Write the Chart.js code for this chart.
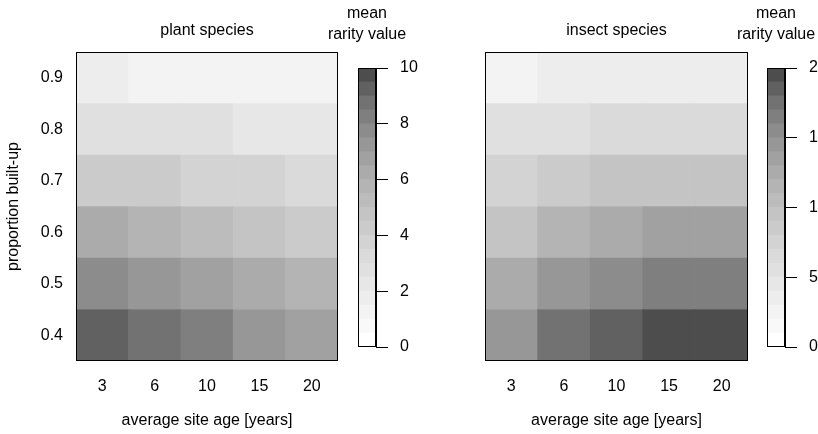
<!DOCTYPE html>
<html><head><meta charset="utf-8">
<script src="https://cdn.jsdelivr.net/npm/chart.js@4/dist/chart.umd.min.js"></script>
<style>
html,body{margin:0;padding:0;background:#fff;}
#wrap{position:relative;width:818px;height:434px;overflow:hidden;background:#fff;}
.box{position:absolute;top:0;height:434px;}
</style></head><body>
<div id="wrap">
<div class="box" style="left:0;width:345px"><canvas id="c1"></canvas></div>
<div class="box" style="left:409px;width:346px"><canvas id="c3"></canvas></div>
<div class="box" style="left:320px;width:130px"><canvas id="c2"></canvas></div>
<div class="box" style="left:720px;width:98px"><canvas id="c4"></canvas></div>
</div>
<script>
// ---- data ----
const ageLabels = ['3', '6', '10', '15', '20'];
const builtUp = [0.4, 0.5, 0.6, 0.7, 0.8, 0.9];
// rows: proportion built-up 0.4 ... 0.9 ; columns: site age 3 ... 20
const plantRarity = [
  [9.2, 8.7, 8.2, 7.2, 6.8],
  [7.7, 7.2, 6.7, 6.3, 5.8],
  [6.2, 5.7, 5.2, 4.7, 4.3],
  [4.2, 4.1, 3.8, 3.6, 3.3],
  [2.8, 2.7, 2.6, 2.3, 2.2],
  [1.7, 1.3, 1.2, 1.2, 1.1]
];
const insectRarity = [
  [14.5, 17.4, 18.5, 19.3, 19.6],
  [12.6, 14.4, 15.5, 16.3, 16.6],
  [9.6, 11.4, 12.5, 13.3, 13.5],
  [7.5, 8.4, 9.3, 9.2, 9.4],
  [5.6, 5.4, 6.3, 6.2, 6.1],
  [2.5, 3.4, 3.3, 3.2, 3.1]
];
const plantMax = 10, insectMax = 20;
const plantBarTicks = [0, 2, 4, 6, 8, 10];
const insectBarTicks = [0, 5, 10, 15, 20];
const nBins = 20;

// ---- styling ----
const FONT = 'Liberation Sans, Arial, Helvetica, sans-serif';
const FS = 16;
Chart.defaults.font.family = FONT;
Chart.defaults.font.size = FS;
Chart.defaults.color = '#000';

function binColor(k) { // k = 0 (lowest value, white) .. nBins-1 (darkest)
  const a = Math.pow(0.3, 2.2);
  const i = nBins - 1 - k;
  const v = Math.pow(a + (1 - a) * i / (nBins - 1), 1 / 2.2);
  const g = Math.round(v * 255);
  return 'rgb(' + g + ',' + g + ',' + g + ')';
}
function valueColor(v, max) {
  let k = Math.floor(v / max * nBins);
  k = Math.max(0, Math.min(nBins - 1, k));
  return binColor(k);
}

const boxPlugin = {
  id: 'boxPlugin',
  afterDraw(chart, args, opts) {
    const {ctx, chartArea: a} = chart;
    ctx.save();
    ctx.strokeStyle = '#000';
    ctx.lineWidth = 1;
    ctx.strokeRect(Math.round(a.left) + 0.5, Math.round(a.top) + 0.5,
      Math.round(a.right - a.left) - 1, Math.round(a.bottom - a.top) - 1);
    ctx.fillStyle = '#000';
    ctx.font = FS + 'px ' + FONT;
    ctx.textAlign = 'center';
    ctx.textBaseline = 'middle';
    const cx = (a.left + a.right) / 2;
    (opts.lines || []).forEach(l => ctx.fillText(l.text, cx, l.y));
    ctx.restore();
  }
};

function heatConfig(matrix, max, title, showY) {
  const half = (builtUp[1] - builtUp[0]) / 2;
  const datasets = builtUp.map((p, r) => ({
    label: String(p),
    data: matrix[r].map(() => [p - half, p + half]),
    backgroundColor: matrix[r].map(v => valueColor(v, max)),
    borderWidth: 0,
    grouped: false,
    barPercentage: 1,
    categoryPercentage: 1
  }));
  return {
    type: 'bar',
    data: {labels: ageLabels, datasets},
    plugins: [boxPlugin],
    options: {
      responsive: true, maintainAspectRatio: false, animation: false,
      devicePixelRatio: 1,
      layout: {padding: {top: 52, right: 7, left: 0, bottom: 0}},
      plugins: {legend: {display: false}, tooltip: {enabled: false},
        boxPlugin: {lines: [{text: title, y: 31}]}},
      scales: {
        x: {
          type: 'category',
          grid: {display: false, drawTicks: false}, border: {display: false},
          ticks: {padding: 16, color: '#000', maxRotation: 0},
          title: {display: true, text: 'average site age [years]', color: '#000', padding: {top: 0, bottom: 4}},
          afterFit: s => { s.height = 73; }
        },
        y: {
          type: 'linear', min: builtUp[0] - half, max: builtUp[builtUp.length - 1] + half,
          afterBuildTicks: s => { s.ticks = builtUp.map(v => ({value: v})); },
          grid: {display: false, drawTicks: false}, border: {display: false},
          ticks: {display: showY, padding: 13, color: '#000', callback: v => Number(v).toFixed(1)},
          title: {display: showY, text: 'proportion built-up', color: '#000', padding: {top: 4, bottom: 0}},
          afterFit: s => { s.width = 76; }
        }
      }
    }
  };
}

function barConfig(max, ticks, padLeft, axisWidth) {
  const step = max / nBins;
  const datasets = [];
  for (let k = 0; k < nBins; k++) {
    datasets.push({
      label: 'bin' + k,
      data: [[k * step, (k + 1) * step]],
      backgroundColor: binColor(k),
      borderWidth: 0, grouped: false, barPercentage: 1, categoryPercentage: 1
    });
  }
  return {
    type: 'bar',
    data: {labels: [''], datasets},
    plugins: [boxPlugin],
    options: {
      responsive: true, maintainAspectRatio: false, animation: false,
      devicePixelRatio: 1,
      layout: {padding: {top: 68, left: padLeft, right: 0, bottom: 87}},
      plugins: {legend: {display: false}, tooltip: {enabled: false},
        boxPlugin: {lines: [{text: 'mean', y: 14}, {text: 'rarity value', y: 35}]}},
      scales: {
        x: {display: false},
        y: {
          position: 'right', min: 0, max: max,
          afterBuildTicks: s => { s.ticks = ticks.map(v => ({value: v})); },
          grid: {drawOnChartArea: false, drawTicks: true, tickLength: 12, color: '#000', lineWidth: 1},
          border: {display: true, color: '#000', width: 1},
          ticks: {padding: 12, color: '#000'},
          afterFit: s => { s.width = axisWidth; }
        }
      }
    }
  };
}

new Chart(document.getElementById('c1'), heatConfig(plantRarity, plantMax, 'plant species', true));
new Chart(document.getElementById('c3'), heatConfig(insectRarity, insectMax, 'insect species', false));
new Chart(document.getElementById('c2'), barConfig(plantMax, plantBarTicks, 38, 74));
new Chart(document.getElementById('c4'), barConfig(insectMax, insectBarTicks, 47, 33));
</script>
</body></html>
